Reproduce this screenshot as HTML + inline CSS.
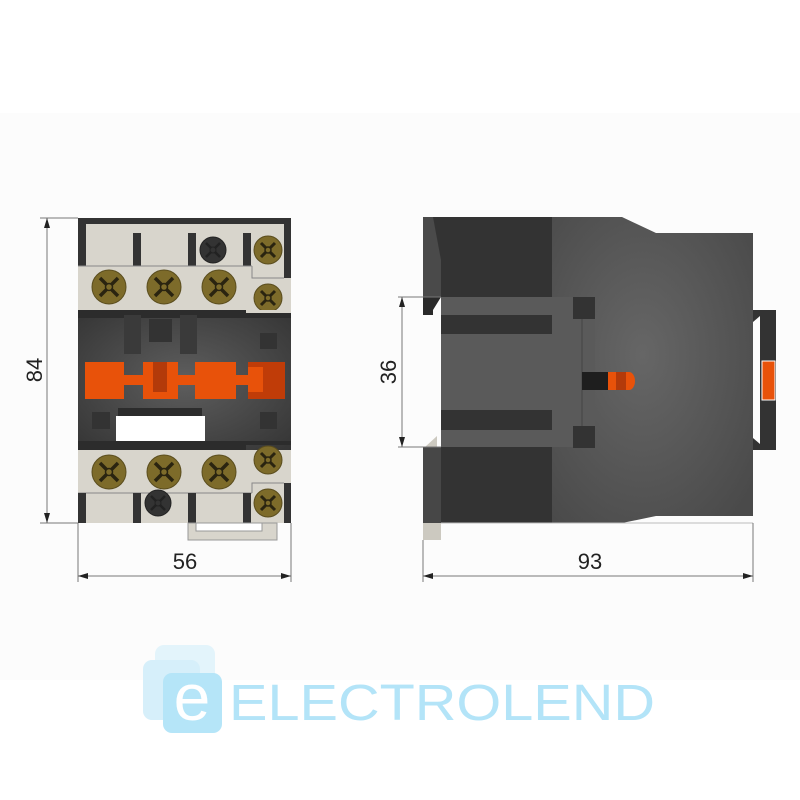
<!DOCTYPE html>
<html><head><meta charset="utf-8"><style>html,body{margin:0;padding:0;background:#fff}svg{display:block}</style></head>
<body>
<svg width="800" height="800" viewBox="0 0 800 800" xmlns="http://www.w3.org/2000/svg">
<defs>
<radialGradient id="g1" cx="0.5" cy="0.5" r="0.7"><stop offset="0" stop-color="#5e5e5e"/><stop offset="1" stop-color="#353535"/></radialGradient>
<radialGradient id="g2" cx="0.45" cy="0.45" r="0.7"><stop offset="0" stop-color="#666"/><stop offset="1" stop-color="#4a4a4a"/></radialGradient>
<g id="scr"><circle r="17" fill="#7d6b2a" stroke="#5a4d1e"/><path d="M-9,-9L9,9M9,-9L-9,9" stroke="#2a2410" stroke-width="3.5"/><circle r="3.5" fill="#7d6b2a" stroke="#2a2410" stroke-width="1.5"/></g>
<g id="scs"><circle r="14" fill="#7d6b2a" stroke="#5a4d1e"/><path d="M-7,-7L7,7M7,-7L-7,7" stroke="#2a2410" stroke-width="3"/><circle r="3" fill="#7d6b2a" stroke="#2a2410" stroke-width="1.5"/></g>
<g id="scb"><circle r="13" fill="#333" stroke="#222"/><path d="M-7,-7L7,7M7,-7L-7,7" stroke="#222" stroke-width="2.5"/><circle r="3" fill="#333" stroke="#222"/></g>
</defs>
<rect x="0" y="113" width="800" height="567" fill="#fcfcfc"/>

<!-- FRONT VIEW -->
<rect x="78" y="218" width="213" height="305" fill="#d8d5cc"/>
<rect x="78" y="218" width="213" height="6" fill="#333"/>
<rect x="78" y="218" width="8" height="48" fill="#333"/>
<rect x="284" y="218" width="7" height="60" fill="#333"/>
<rect x="133" y="233" width="8" height="33" fill="#333"/>
<rect x="188" y="233" width="8" height="33" fill="#333"/>
<rect x="243" y="233" width="8" height="33" fill="#333"/>
<line x1="78" y1="266" x2="252" y2="266" stroke="#888"/>
<polyline points="252,266 252,278 284,278" fill="none" stroke="#888"/>
<use href="#scb" x="213" y="250"/>
<use href="#scs" x="268" y="250"/>
<use href="#scr" x="109" y="287"/>
<use href="#scr" x="164" y="287"/>
<use href="#scr" x="219" y="287"/>
<use href="#scs" x="268" y="298"/>
<rect x="78" y="310" width="213" height="140" fill="url(#g1)"/>
<rect x="78" y="310" width="168" height="8" fill="#2c2c2c"/>
<rect x="246" y="310" width="45" height="3" fill="#d8d5cc"/>
<rect x="246" y="313" width="45" height="5" fill="#2c2c2c"/>
<rect x="124" y="315" width="17" height="39" fill="#3a3a3a"/>
<rect x="180" y="315" width="17" height="39" fill="#3a3a3a"/>
<rect x="149" y="319" width="23" height="23" fill="#333"/>
<rect x="260" y="333" width="17" height="16" fill="#333"/>
<rect x="92" y="412" width="18" height="17" fill="#333"/>
<rect x="260" y="412" width="17" height="17" fill="#333"/>
<rect x="118" y="408" width="84" height="8" fill="#2c2c2c"/>
<rect x="116" y="416" width="89" height="25" fill="#fff"/>
<rect x="85" y="362" width="39" height="37" fill="#e8520a"/>
<rect x="124" y="375" width="19" height="10" fill="#e8520a"/>
<rect x="143" y="362" width="35" height="37" fill="#e8520a"/>
<rect x="153" y="362" width="14" height="30" fill="#b33a0a"/>
<rect x="178" y="375" width="10" height="10" fill="#e8520a"/>
<rect x="188" y="375" width="8" height="10" fill="#e8520a"/>
<rect x="195" y="362" width="41" height="37" fill="#e8520a"/>
<rect x="236" y="375" width="12" height="10" fill="#e8520a"/>
<rect x="248" y="362" width="37" height="37" fill="#c03c08"/>
<rect x="248" y="367" width="15" height="25" fill="#e8520a"/>
<rect x="78" y="441" width="168" height="9" fill="#2c2c2c"/>
<rect x="246" y="441" width="45" height="4" fill="#2c2c2c"/>
<rect x="78" y="450" width="213" height="3" fill="#d8d5cc"/>
<use href="#scr" x="109" y="472"/>
<use href="#scr" x="164" y="472"/>
<use href="#scr" x="219" y="472"/>
<use href="#scs" x="268" y="460"/>
<line x1="78" y1="493" x2="252" y2="493" stroke="#888"/>
<polyline points="252,493 252,483 284,483" fill="none" stroke="#888"/>
<rect x="78" y="493" width="8" height="30" fill="#333"/>
<rect x="133" y="493" width="8" height="30" fill="#333"/>
<rect x="188" y="493" width="8" height="30" fill="#333"/>
<rect x="243" y="493" width="8" height="30" fill="#333"/>
<rect x="284" y="483" width="7" height="40" fill="#333"/>
<use href="#scb" x="158" y="503"/>
<use href="#scs" x="268" y="503"/>
<rect x="188" y="523" width="89" height="17" fill="#d8d5cc" stroke="#999"/>
<rect x="196" y="523" width="66" height="8" fill="#fff" stroke="#999"/>

<g stroke="#777" stroke-width="1" fill="none">
<line x1="40" y1="218" x2="78" y2="218"/><line x1="40" y1="523" x2="78" y2="523"/>
<line x1="47" y1="218" x2="47" y2="523"/>
<line x1="78" y1="523" x2="78" y2="582"/><line x1="291" y1="523" x2="291" y2="582"/>
<line x1="78" y1="576" x2="291" y2="576"/>
</g>
<g fill="#222">
<path d="M47,218l-3,10h6z"/><path d="M47,523l-3,-10h6z"/>
<path d="M78,576l10,-3v6z"/><path d="M291,576l-10,-3v6z"/>
</g>
<text transform="translate(42,370) rotate(-90)" text-anchor="middle" font-family="Liberation Sans, sans-serif" font-size="22" fill="#222">84</text>
<text x="185" y="569" text-anchor="middle" font-family="Liberation Sans, sans-serif" font-size="22" fill="#222">56</text>

<!-- SIDE VIEW -->
<path d="M552,217 L622,217 L656,233 L753,233 L753,516 L656,516 L622,523 L552,523 Z" fill="url(#g2)"/>
<rect x="423" y="217" width="129" height="80" fill="#333"/>
<rect x="423" y="447" width="129" height="76" fill="#333"/>
<path d="M423,217 L433,217 L441,260 L441,297 L423,297Z" fill="#4a4a4a"/>
<path d="M423,297 L441,297 L433,310 L433,315 L423,315Z" fill="#2a2a2a"/>
<rect x="423" y="447" width="18" height="76" fill="#474747"/>
<rect x="441" y="297" width="154" height="150" fill="#5a5a5a"/>
<rect x="441" y="315" width="111" height="19" fill="#333"/>
<rect x="441" y="410" width="111" height="20" fill="#333"/>
<rect x="573" y="297" width="22" height="22" fill="#333"/>
<rect x="573" y="426" width="22" height="22" fill="#333"/>
<line x1="582" y1="319" x2="582" y2="426" stroke="#444"/>
<rect x="582" y="372" width="26" height="18" fill="#1e1e1e"/>
<rect x="608" y="372" width="8" height="18" fill="#e8520a"/>
<rect x="616" y="372" width="10" height="18" fill="#b33a0a"/>
<path d="M626,372 h3 a6,9 0 0 1 0,18 h-3z" fill="#e8520a"/>
<path d="M425,447 L437,436 L437,447Z" fill="#ccc9c0"/>
<rect x="423" y="523" width="18" height="17" fill="#ccc9c0"/>
<line x1="441" y1="523" x2="753" y2="523" stroke="#bbb"/>
<path d="M753,310 L776,310 L776,450 L753,450 L753,438 L760,444 L760,316 L753,322Z" fill="#333"/>
<rect x="762" y="361" width="13" height="39" fill="#e8520a" stroke="#fff"/>

<g stroke="#777" stroke-width="1" fill="none">
<line x1="398" y1="297" x2="441" y2="297"/><line x1="398" y1="447" x2="441" y2="447"/>
<line x1="402" y1="297" x2="402" y2="447"/>
<line x1="423" y1="540" x2="423" y2="582"/><line x1="753" y1="523" x2="753" y2="582"/>
<line x1="423" y1="576" x2="753" y2="576"/>
</g>
<g fill="#222">
<path d="M402,297l-3,10h6z"/><path d="M402,447l-3,-10h6z"/>
<path d="M423,576l10,-3v6z"/><path d="M753,576l-10,-3v6z"/>
</g>
<text transform="translate(396,372) rotate(-90)" text-anchor="middle" font-family="Liberation Sans, sans-serif" font-size="22" fill="#222">36</text>
<text x="590" y="569" text-anchor="middle" font-family="Liberation Sans, sans-serif" font-size="22" fill="#222">93</text>

<!-- LOGO -->
<rect x="155" y="645" width="60" height="60" rx="9" fill="#e3f4fb"/>
<rect x="143" y="660" width="57" height="60" rx="9" fill="#d6effa"/>
<rect x="163" y="673" width="59" height="60" rx="9" fill="#b5e5f8"/>
<text x="192" y="720" text-anchor="middle" font-family="Liberation Sans, sans-serif" font-size="66" fill="#fff">e</text>
<text x="229" y="720" textLength="426" lengthAdjust="spacingAndGlyphs" font-family="Liberation Sans, sans-serif" font-size="51" fill="#b3e4f8">ELECTROLEND</text>
</svg>
</body></html>
